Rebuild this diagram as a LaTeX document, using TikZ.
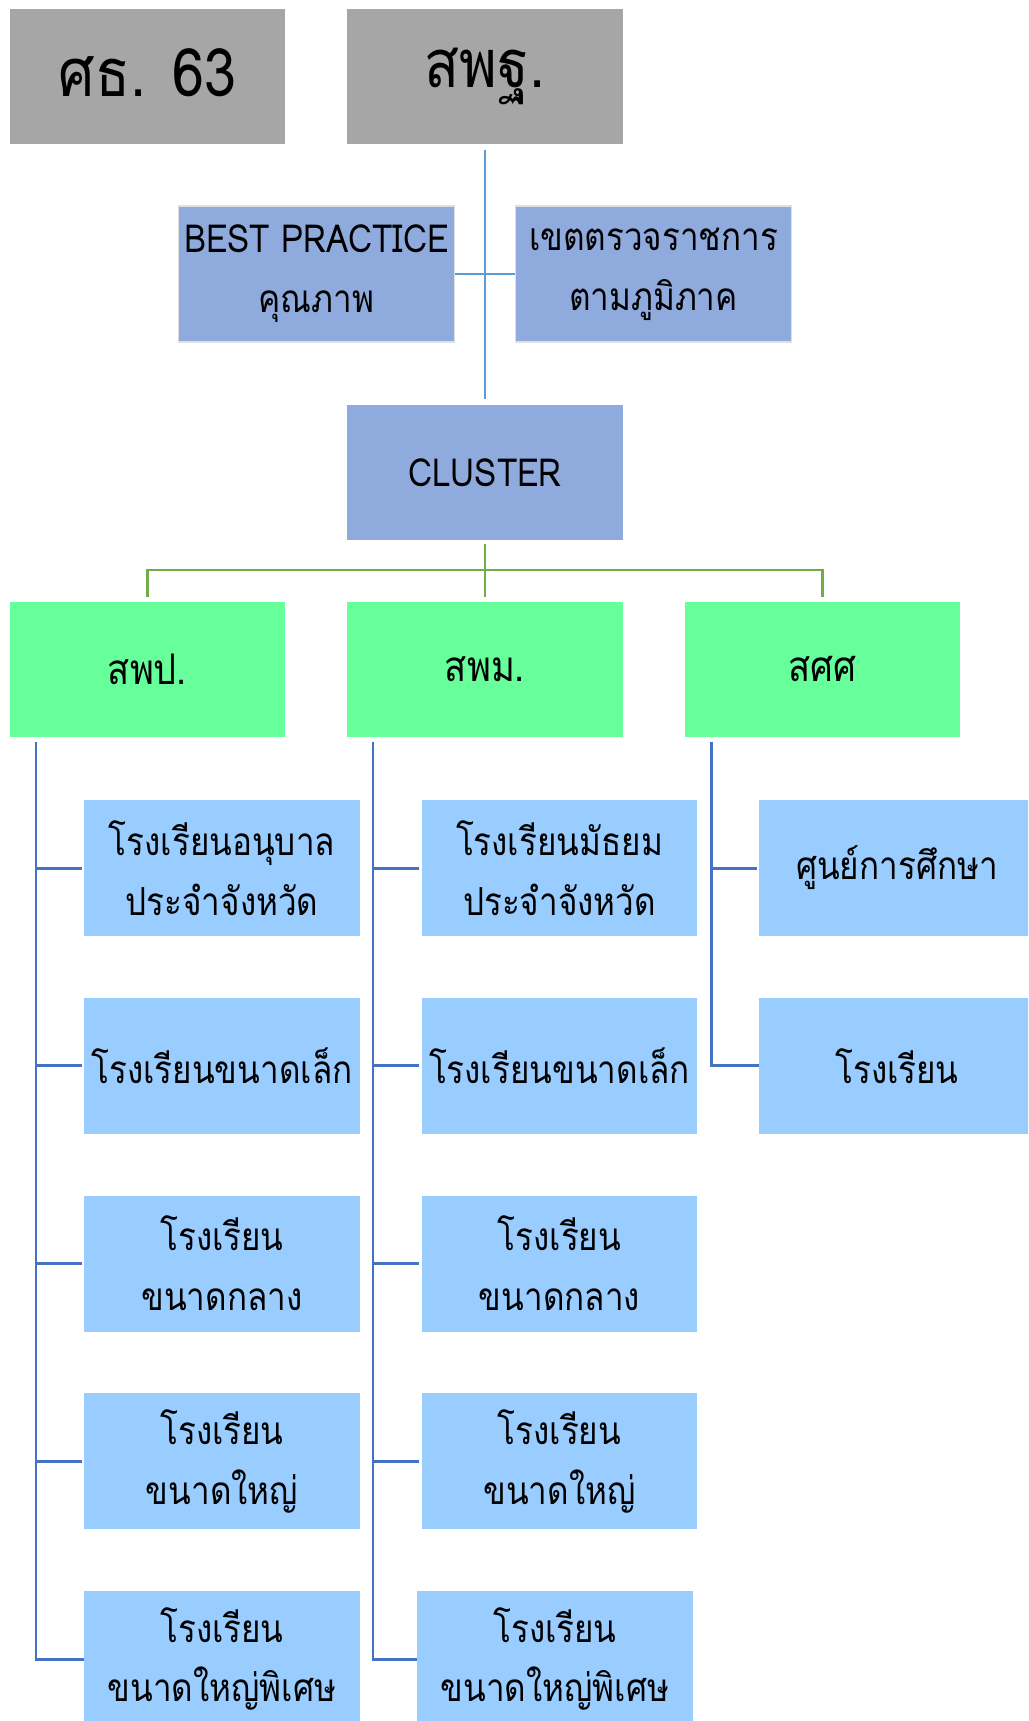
\documentclass[tikz,border=0pt]{standalone}
\usepackage{fontspec}
\setmainfont[Script=Thai, FakeStretch=0.86]{Loma}
\usetikzlibrary{positioning}

\definecolor{boxgray}{HTML}{A6A6A6}
\definecolor{boxsteel}{HTML}{8FAADC}
\definecolor{boxmint}{HTML}{66FF99}
\definecolor{boxsky}{HTML}{99CCFF}
\definecolor{linesky}{HTML}{5B9BD5}
\definecolor{linegreen}{HTML}{70AD47}
\definecolor{lineroyal}{HTML}{4472C4}

\begin{document}
\begin{tikzpicture}[
        x=0.02cm, y=-0.02cm,
        base/.style={rectangle, inner sep=0pt, align=center, text=black,
            minimum width=5.52cm, minimum height=2.72cm},
        headbox/.style={base, fill=boxgray, font=\fontsize{38}{40}\selectfont},
        midbox/.style={base, fill=boxsteel, draw=black!12, line width=0.7pt,
            font=\fontsize{22}{34}\selectfont},
        groupbox/.style={base, fill=boxmint, font=\fontsize{24}{30}\selectfont},
        school/.style={base, fill=boxsky, font=\fontsize{22}{34}\selectfont},
        topline/.style={linesky, line width=1.3pt},
        groupline/.style={linegreen, line width=1.5pt},
        branch/.style={lineroyal, line width=1.7pt},
    ]
        \clip (0,0) rectangle (1028,1721);
        \fill[white] (0,0) rectangle (1028,1721);

        % --- Top row ---
        \node[headbox] (moe) at (147.5,76.5) {\raisebox{4pt}{ศธ. 63}};
        \node[headbox] (obec) at (485,76.5) {สพฐ.};

        % --- Middle level ---
        \node[midbox] (best) at (316.5,274) {BEST PRACTICE\\คุณภาพ};
        \node[midbox] (zone) at (653.5,274) {เขตตรวจราชการ\\ตามภูมิภาค};
        \node[base, fill=boxsteel, font=\fontsize{22}{30}\selectfont] (cluster) at (485,472.5) {CLUSTER};

        \draw[topline, shorten <=0.1cm, shorten >=0.1cm] (obec) -- (cluster);
        \draw[topline] (best.east) -- (zone.west);

        % --- Offices ---
        \node[groupbox] (spp) at (147.5,669.5) {สพป.};
        \node[groupbox] (spm) at (485,669.5) {สพม.};
        \node[groupbox] (sss) at (822.5,669.5) {สศศ};

        \coordinate (gbar) at (485,570);
        \draw[groupline, shorten <=0.06cm] (cluster.south) -- (gbar);
        \draw[groupline, shorten <=0.08cm, shorten >=0.08cm] (spp.north) |- (gbar) -| (sss.north);
        \draw[groupline, shorten >=0.08cm] (gbar) -- (spm.north);

        % --- Schools ---
        \foreach \txt [count=\i] in {{โรงเรียนอนุบาล\\ประจำจังหวัด}, {โรงเรียนขนาดเล็ก},
                {โรงเรียน\\ขนาดกลาง}, {โรงเรียน\\ขนาดใหญ่}, {โรงเรียน\\ขนาดใหญ่พิเศษ}} {
            \node[school] (p\i) at (222,{868+197.75*(\i-1)}) {\txt};
        }
        \foreach \txt [count=\i] in {{โรงเรียนมัธยม\\ประจำจังหวัด}, {โรงเรียนขนาดเล็ก},
                {โรงเรียน\\ขนาดกลาง}, {โรงเรียน\\ขนาดใหญ่}} {
            \node[school] (m\i) at (559.5,{868+197.75*(\i-1)}) {\txt};
        }
        \node[school] (m5) at (555,1659) {โรงเรียน\\ขนาดใหญ่พิเศษ};
        \node[school] (s1) at (897,868) {ศูนย์การศึกษา};
        \node[school] (s2) at (897,1065.75) {โรงเรียน};

        \coordinate (pline) at (36,742);
        \coordinate (mline) at (373,742);
        \coordinate (sline) at (711,742);

        \draw[branch] (pline) |- (p5.west);
        \draw[branch] (mline) |- (m5.west);
        \draw[branch] (sline) |- (s2.west);
        \foreach \i in {1,...,4} {
            \draw[branch, shorten >=0.04cm] (pline |- p\i.west) -- (p\i.west);
            \draw[branch, shorten >=0.04cm] (mline |- m\i.west) -- (m\i.west);
        }
        \draw[branch, shorten >=0.04cm] (sline |- s1.west) -- (s1.west);
\end{tikzpicture}
\end{document}
